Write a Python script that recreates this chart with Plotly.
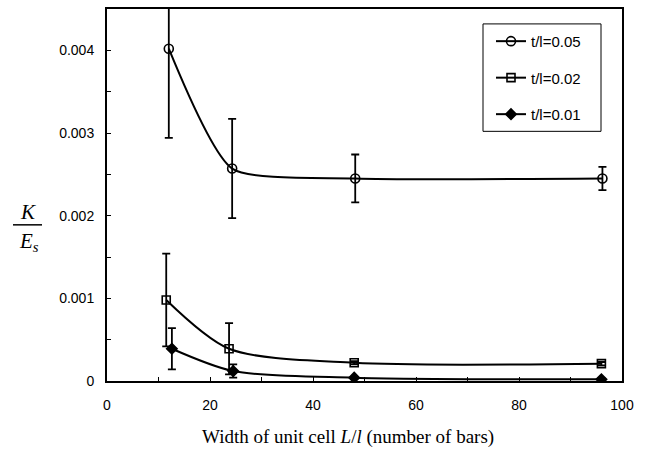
import plotly.graph_objects as go

# Data
x_05 = [12.0, 24.3, 48.2, 96.2]
y_05 = [0.00402, 0.00257, 0.00245, 0.00245]
e_05 = [0.00108, 0.00060, 0.00029, 0.00014]

x_02 = [11.5, 23.7, 48.0, 96.0]
y_02 = [0.00098, 0.00039, 0.00022, 0.00021]
e_02 = [0.00056, 0.00031, 0.00002, 0.00002]

x_01 = [12.6, 24.5, 48.0, 96.0]
y_01 = [0.00039, 0.00012, 0.00004, 0.00002]
e_01 = [0.00025, 0.00008, 0.00001, 0.00001]

names = ["t/l=0.05", "t/l=0.02", "t/l=0.01"]

fig = go.Figure()

def add_series(xs, ys, es, name, symbol, size, group, smooth):
    fig.add_trace(go.Scatter(
        x=xs, y=ys, name=name, mode="lines+markers",
        legendgroup=group,
        line=dict(color="black", width=2, shape="spline", smoothing=smooth),
        marker=dict(symbol=symbol, size=size, color="black",
                    line=dict(color="black", width=1.6)),
        error_y=dict(type="data", array=es, visible=True,
                     color="black", thickness=1.8, width=4),
    ))

add_series(x_05, y_05, e_05, names[0], "circle-open", 9, "a", 0.6)
add_series(x_02, y_02, e_02, names[1], "square-open", 8, "b", 0.8)
add_series(x_01, y_01, e_01, names[2], "diamond", 8, "c", 0.8)

L, R, T, B = 107, 23, 7, 75
W, H = 645, 456
pw, ph = W - L - R, H - T - B

def px(xp):
    return (xp - L) / pw

def py(yp):
    return (H - B - yp) / ph

fig.update_layout(
    width=W, height=H,
    margin=dict(l=L, r=R, t=T, b=B),
    paper_bgcolor="white", plot_bgcolor="white",
    font=dict(family="Liberation Sans, Arial", size=14, color="black"),
    showlegend=True,
    legend=dict(
        x=px(491), y=py(23), xanchor="left", yanchor="top",
        borderwidth=0, bgcolor="rgba(0,0,0,0)",
        font=dict(size=15, family="Liberation Sans, Arial"),
        traceorder="grouped", tracegroupgap=14,
        itemwidth=30,
    ),
    xaxis=dict(
        range=[0, 100], tickvals=[0, 20, 40, 60, 80, 100],
        ticks="inside", ticklen=4, tickwidth=1, tickcolor="black",
        minor=dict(dtick=10, ticks="inside", ticklen=4, tickcolor="black"),
        showline=True, linecolor="black", linewidth=2, mirror=True,
        showgrid=False, zeroline=False,
        tickfont=dict(size=14), ticklabelstandoff=10,
    ),
    yaxis=dict(
        range=[0, 0.0045], tickvals=[0, 0.001, 0.002, 0.003, 0.004],
        ticktext=["0", "0.001", "0.002", "0.003", "0.004"],
        ticks="inside", ticklen=4, tickwidth=1, tickcolor="black",
        minor=dict(dtick=0.0005, ticks="inside", ticklen=4, tickcolor="black"),
        showline=True, linecolor="black", linewidth=2, mirror=True,
        showgrid=False, zeroline=False,
        tickfont=dict(size=14), ticklabelstandoff=8,
    ),
)

# legend frame
fig.add_shape(
    type="rect", xref="paper", yref="paper",
    x0=px(483), x1=px(601), y0=py(130), y1=py(22),
    line=dict(color="black", width=1), fillcolor="white", layer="above",
)

# x-axis title
fig.add_annotation(
    x=px(348), y=py(437), xref="paper", yref="paper",
    text="Width of unit cell <i>L</i>/<i>l</i> (number of bars)",
    showarrow=False, xanchor="center", yanchor="middle",
    font=dict(family="Liberation Serif, Times New Roman", size=19, color="black"),
)

# y-axis title as a fraction K / E_s
fig.add_annotation(
    x=px(28), y=py(211), xref="paper", yref="paper",
    text="<i>K</i>", showarrow=False, xanchor="center", yanchor="middle",
    font=dict(family="Liberation Serif, Times New Roman", size=21, color="black"),
)
fig.add_annotation(
    x=px(29), y=py(241), xref="paper", yref="paper",
    text="<i>E<sub>s</sub></i>", showarrow=False, xanchor="center", yanchor="middle",
    font=dict(family="Liberation Serif, Times New Roman", size=21, color="black"),
)
fig.add_shape(
    type="line", xref="paper", yref="paper",
    x0=px(13), x1=px(42), y0=py(224), y1=py(224),
    line=dict(color="black", width=1.5),
)

fig.write_html("out.html")
